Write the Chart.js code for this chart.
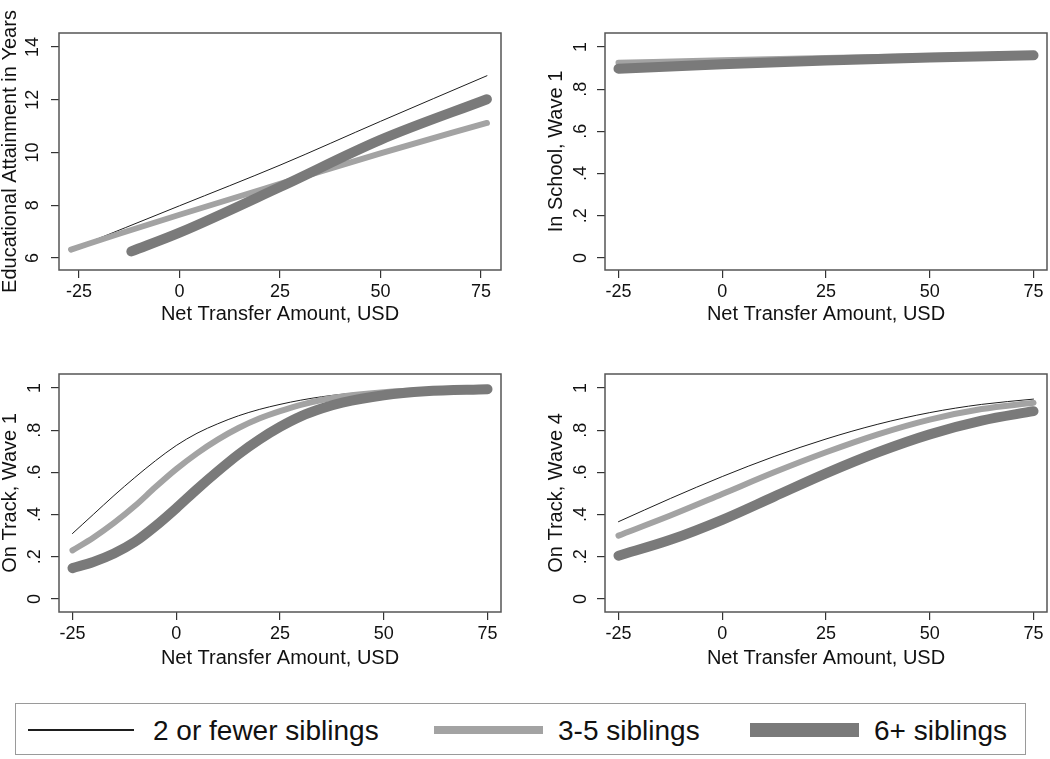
<!DOCTYPE html>
<html>
<head>
<meta charset="utf-8">
<script src="https://cdn.jsdelivr.net/npm/chart.js@4.4.1/dist/chart.umd.min.js"></script>
<style>
  body { margin: 0; background: #fff; width: 1050px; height: 759px; position: relative; overflow: hidden;
         font-family: "Liberation Sans", Arial, Helvetica, sans-serif; }
  canvas { position: absolute; }
  #legend { position: absolute; left: 15px; top: 703px; width: 1011px; height: 52px;
            border: 1.5px solid #9a9a9a; box-sizing: border-box; }
  .sw { position: absolute; }
  .lb { position: absolute; font-size: 28px; line-height: 28px; color: #111; white-space: nowrap; }
</style>
</head>
<body>
<canvas id="p1" style="left:0;top:0"></canvas>
<canvas id="p2" style="left:520px;top:0"></canvas>
<canvas id="p3" style="left:0;top:340px"></canvas>
<canvas id="p4" style="left:520px;top:340px"></canvas>

<div id="legend"></div>

<script>
/* ── 데이터 ─────────────────────────────── */
const seriesNames = ['2 or fewer siblings', '3-5 siblings', '6+ siblings'];

const xTickValues = [-25, 0, 25, 50, 75];
const xTickLabels = ['-25', '0', '25', '50', '75'];
const eduTickValues  = [6, 8, 10, 12, 14];
const eduTickLabels  = ['6', '8', '10', '12', '14'];
const propTickValues = [0, 0.2, 0.4, 0.6, 0.8, 1];
const propTickLabels = ['0', '.2', '.4', '.6', '.8', '1'];

const xTitle = 'Net Transfer Amount, USD';
const yTitles = ['Educational Attainment in Years', 'In School, Wave 1', 'On Track, Wave 1', 'On Track, Wave 4'];

// 패널 1: 교육 연수
const eduXBlack = [-27, 0, 25, 50, 76.5];
const eduBlack  = [6.32, 7.98, 9.52, 11.18, 12.91];
const eduXLight = [-27, -15, 0, 25, 50, 76.5];
const eduLight  = [6.32, 6.92, 7.64, 8.81, 9.97, 11.12];
const eduXDark  = [-12, 0, 25, 50, 76.5];
const eduDark   = [6.25, 6.96, 8.69, 10.48, 12.02];

// 패널 2: 재학 여부 (Wave 1)
const schoolX     = [-25, 0, 25, 50, 75];
const schoolBlack = [0.93, 0.94, 0.95, 0.958, 0.966];
const schoolLight = [0.925, 0.937, 0.948, 0.957, 0.965];
const schoolDark  = [0.897, 0.918, 0.936, 0.95, 0.96];

// 패널 3: On Track, Wave 1
const w1X     = [-25, -20, -15, -10, -5, 0, 5, 10, 15, 20, 25, 30, 35, 40, 50, 60, 75];
const w1Black = [0.31, 0.40, 0.49, 0.575, 0.655, 0.727, 0.785, 0.83, 0.868, 0.898, 0.922, 0.942, 0.958, 0.97, 0.985, 0.992, 0.997];
const w1Light = [0.23, 0.29, 0.36, 0.44, 0.53, 0.615, 0.69, 0.755, 0.81, 0.855, 0.89, 0.92, 0.943, 0.96, 0.98, 0.99, 0.995];
const w1Dark  = [0.146, 0.175, 0.215, 0.27, 0.345, 0.43, 0.52, 0.605, 0.685, 0.755, 0.815, 0.865, 0.902, 0.93, 0.965, 0.984, 0.994];

// 패널 4: On Track, Wave 4
const w4X     = [-25, -12.5, 0, 12.5, 25, 37.5, 50, 62.5, 75];
const w4Black = [0.366, 0.476, 0.58, 0.675, 0.758, 0.828, 0.883, 0.922, 0.947];
const w4Light = [0.30, 0.395, 0.497, 0.60, 0.695, 0.78, 0.85, 0.90, 0.93];
const w4Dark  = [0.205, 0.28, 0.375, 0.485, 0.595, 0.695, 0.78, 0.845, 0.89];

/* ── 스타일 ─────────────────────────────── */
const FONT = '"Liberation Sans", Arial, Helvetica, sans-serif';
const lineStyles = [
  { color: '#1e1e1e', width: 1,  order: 3 },
  { color: '#a3a3a3', width: 6,  order: 2 },
  { color: '#7a7a7a', width: 10, order: 1 },
];

// 플롯 영역 테두리
const framePlugin = {
  id: 'frame',
  afterDraw(chart) {
    const { ctx, chartArea: a } = chart;
    ctx.save();
    ctx.strokeStyle = '#555';
    ctx.lineWidth = 1.5;
    ctx.strokeRect(a.left, a.top, a.right - a.left, a.bottom - a.top);
    ctx.restore();
  }
};

function pts(xs, ys) { return xs.map((x, i) => ({ x, y: ys[i] })); }

function makePanel(id, cfg) {
  const cv = document.getElementById(id);
  cv.width = cfg.w; cv.height = cfg.h;
  cv.style.width = cfg.w + 'px'; cv.style.height = cfg.h + 'px';

  const datasets = cfg.series.map((s, i) => ({
    label: seriesNames[i],
    data: pts(s[0], s[1]),
    borderColor: lineStyles[i].color,
    borderWidth: lineStyles[i].width,
    borderCapStyle: 'round',
    borderJoinStyle: 'round',
    pointRadius: 0,
    fill: false,
    cubicInterpolationMode: 'monotone',
    order: lineStyles[i].order,
  }));

  return new Chart(cv, {
    type: 'line',
    data: { datasets },
    plugins: [framePlugin],
    options: {
      responsive: false,
      animation: false,
      events: [],
      layout: { padding: { left: 0, top: cfg.top, right: cfg.right, bottom: 0 } },
      plugins: { legend: { display: false }, tooltip: { enabled: false } },
      scales: {
        x: {
          type: 'linear',
          min: cfg.xMin, max: cfg.xMax,
          afterBuildTicks: sc => { sc.ticks = xTickValues.map(v => ({ value: v })); },
          afterFit: sc => { sc.height = cfg.xH; },
          grid: { display: true, drawOnChartArea: false, drawTicks: true, tickLength: 8, color: '#333', lineWidth: 1.2 },
          border: { display: false },
          ticks: {
            color: '#111', font: { family: FONT, size: 18 }, padding: cfg.xTickPad,
            maxRotation: 0, minRotation: 0,
            callback: (v, i) => xTickLabels[i],
          },
          title: {
            display: true, text: xTitle, color: '#111',
            font: { family: FONT, size: 20, lineHeight: 1 },
            padding: { top: 0, bottom: cfg.xTitlePad },
          },
        },
        y: {
          type: 'linear',
          min: cfg.yMin, max: cfg.yMax,
          afterBuildTicks: sc => { sc.ticks = cfg.yTicks.map(v => ({ value: v })); },
          afterFit: sc => { sc.width = cfg.yW; },
          grid: { display: true, drawOnChartArea: false, drawTicks: true, tickLength: 8, color: '#333', lineWidth: 1.2 },
          border: { display: false },
          ticks: {
            color: '#111', font: { family: FONT, size: 18 }, padding: 8,
            minRotation: 90, maxRotation: 90, crossAlign: 'center',
            callback: (v, i) => cfg.yLabels[i],
          },
          title: {
            display: true, text: cfg.yTitle, color: '#111',
            font: { family: FONT, size: 20, lineHeight: 1 },
            padding: { top: cfg.yTitlePad, bottom: 0 },
          },
        },
      },
    },
  });
}

/* ── 패널 ───────────────────────────────── */
const topRow = { h: 340, top: 33, xH: 70, xTickPad: 3, xTitlePad: 16 };
const botRow = { h: 340, top: 34, xH: 68, xTickPad: 3, xTitlePad: 12 };

makePanel('p1', Object.assign({}, topRow, {
  w: 520, right: 19, yW: 59, yTitlePad: 0,
  xMin: -30, xMax: 80, yMin: 5.545, yMax: 14.53,
  yTicks: eduTickValues, yLabels: eduTickLabels, yTitle: yTitles[0],
  series: [[eduXBlack, eduBlack], [eduXLight, eduLight], [eduXDark, eduDark]],
}));

makePanel('p2', Object.assign({}, topRow, {
  w: 530, right: 3, yW: 85, yTitlePad: 26,
  xMin: -28.25, xMax: 78.25, yMin: -0.057, yMax: 1.066,
  yTicks: propTickValues, yLabels: propTickLabels, yTitle: yTitles[1],
  series: [[schoolX, schoolBlack], [schoolX, schoolLight], [schoolX, schoolDark]],
}));

makePanel('p3', Object.assign({}, botRow, {
  w: 520, right: 19, yW: 59, yTitlePad: 0,
  xMin: -28.25, xMax: 78.25, yMin: -0.062, yMax: 1.066,
  yTicks: propTickValues, yLabels: propTickLabels, yTitle: yTitles[2],
  series: [[w1X, w1Black], [w1X, w1Light], [w1X, w1Dark]],
}));

makePanel('p4', Object.assign({}, botRow, {
  w: 530, right: 3, yW: 85, yTitlePad: 26,
  xMin: -28.25, xMax: 78.25, yMin: -0.062, yMax: 1.066,
  yTicks: propTickValues, yLabels: propTickLabels, yTitle: yTitles[3],
  series: [[w4X, w4Black], [w4X, w4Light], [w4X, w4Dark]],
}));

/* ── 범례 (HTML) ───────────────────────── */
const legendPos = [
  { sx: 12,  sw: 106, tx: 137 },
  { sx: 418, sw: 109, tx: 542 },
  { sx: 734, sw: 109, tx: 858 },
];
const legendH = [2, 8, 14];
const lg = document.getElementById('legend');
seriesNames.forEach((name, i) => {
  const p = legendPos[i];
  const sw = document.createElement('div');
  sw.className = 'sw';
  sw.style.cssText = `left:${p.sx}px;width:${p.sw}px;height:${legendH[i]}px;top:${26 - legendH[i] / 2}px;background:${lineStyles[i].color}`;
  const lb = document.createElement('div');
  lb.className = 'lb';
  lb.style.cssText = `left:${p.tx}px;top:13px`;
  lb.textContent = name;
  lg.appendChild(sw);
  lg.appendChild(lb);
});
</script>
</body>
</html>
